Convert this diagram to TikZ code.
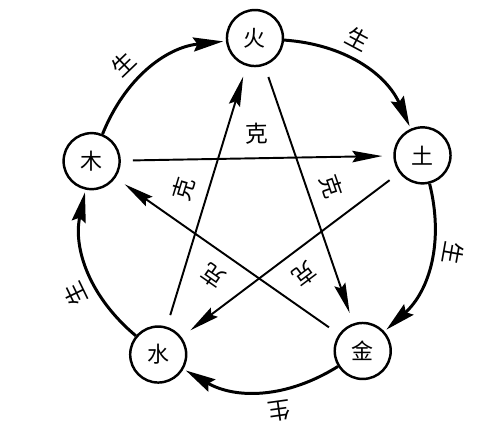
\documentclass[tikz,border=0pt]{standalone}
\usepackage{fontspec}
\newfontfamily\cjk{Noto Sans CJK SC}
\usetikzlibrary{arrows.meta}

\begin{document}
\begin{tikzpicture}[
        elem/.style={circle, draw, line width=1.4pt, minimum size=1.12cm, inner sep=0pt,
            font=\cjk\fontsize{12.5}{14}\selectfont},
        sheng/.style={line width=1.7pt, shorten >=1.5pt,
            -{Stealth[length=6mm, width=2.8mm, inset=0.8mm]}},
        ke/.style={line width=1.1pt, shorten <=0.24cm, shorten >=0.22cm,
            -{Stealth[length=6mm, width=2.3mm, inset=0.8mm]}},
        shenglbl/.style={sloped, allow upside down, above=2pt, pos=0.4,
            font=\cjk\fontsize{13}{15}\selectfont},
        kelbl/.style={sloped, allow upside down, above=4pt,
            font=\cjk\fontsize{13}{15}\selectfont}
    ]
        \useasboundingbox (-5.16,-4.32) rectangle (4.84,4.24);

        % five elements
        \node[elem] (huo) at (91:3.48) {火};
        \node[elem] (tu) at (19:3.48) {土};
        \node[elem] (jin) at (-53:3.48) {金};
        \node[elem] (shui) at (-125:3.48) {水};
        \node[elem] (mu) at (163:3.48) {木};

        % generating cycle
        \draw[sheng] (huo) to[bend left=31] node[shenglbl] {生} (tu);
        \draw[sheng] (tu) to[bend left=31] node[shenglbl] {生} (jin);
        \draw[sheng] (jin) to[bend left=31] node[shenglbl] {生} (shui);
        \draw[sheng] (shui) to[bend left=31] node[shenglbl] {生} (mu);
        \draw[sheng] (mu) to[bend left=31] node[shenglbl] {生} (huo);

        % overcoming star
        \draw[ke] (mu) -- node[kelbl] {克} (tu);
        \draw[ke] (tu) -- node[kelbl] {克} (shui);
        \draw[ke] (shui) -- node[kelbl] {克} (huo);
        \draw[ke] (huo) -- node[kelbl] {克} (jin);
        \draw[ke] (jin) -- node[kelbl] {克} (mu);
    \end{tikzpicture}
\end{document}
